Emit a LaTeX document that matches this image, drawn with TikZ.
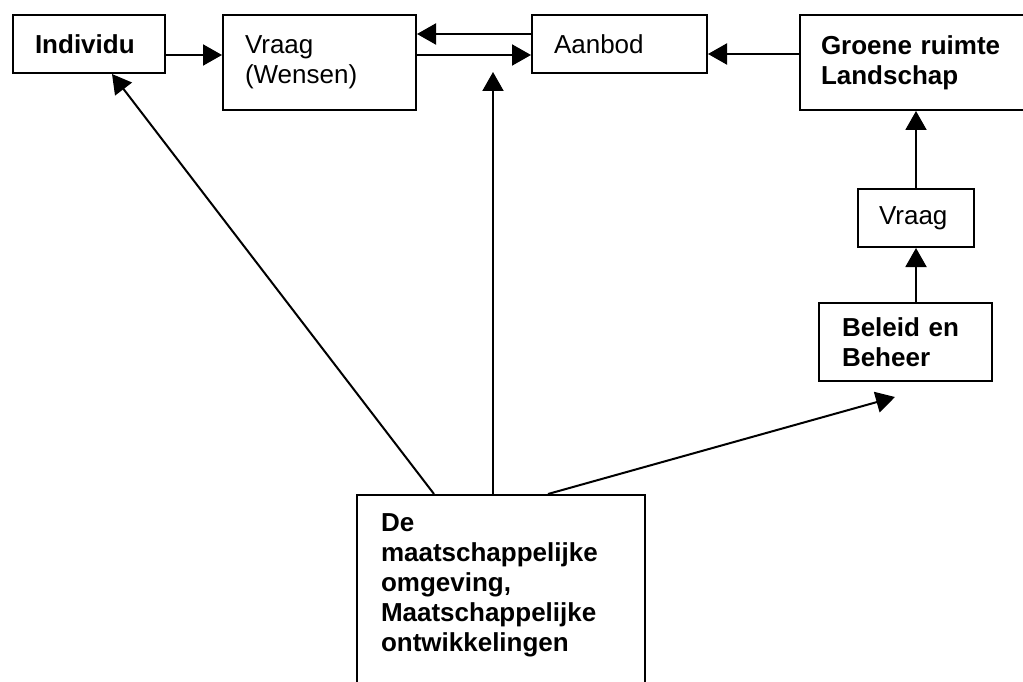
\documentclass[tikz,border=0pt]{standalone}
\usepackage{fontspec}
\setmainfont{Liberation Sans}
\usetikzlibrary{arrows.meta}

\begin{document}
\begin{tikzpicture}[x=1pt,y=-1pt,
  box/.style={draw,line width=2pt,anchor=north west,inner xsep=22pt,inner ysep=0pt,
    align=left,font=\fontsize{26}{30}\selectfont},
  vet/.style={box,font=\fontsize{26}{30}\selectfont\bfseries},
  pijl/.style={line width=2pt,-{Triangle[length=19pt,width=21pt]}}]
\useasboundingbox (0,0) rectangle (1023,682);
% bovenste rij
\node[vet,text width=108pt,minimum height=58pt] (ind) at (12,14) {Individu};
\node[box,text width=149pt,minimum height=95pt] (vr) at (222,14) {Vraag\\(Wensen)};
\node[box,text width=131pt,minimum height=58pt] (aan) at (531,14) {Aanbod};
\node[vet,inner xsep=21pt,text width=205pt,minimum height=95pt] (gr) at (799,14) {Groene ruimte\\Landschap};
% rechter kolom
\node[box,inner xsep=21pt,text width=74pt,minimum height=58pt] (vr2) at (857,188) {Vraag};
\node[vet,inner xsep=23pt,text width=127pt,minimum height=78pt] (bel) at (818,302) {Beleid en\\Beheer};
% onderste blok
\node[vet,inner xsep=24pt,inner ysep=16pt,text width=240pt,text height=20pt,text depth=170pt]
  (mts) at (356,494) {De\\maatschappelijke\\omgeving,\\Maatschappelijke\\ontwikkelingen};
\coordinate (pvr) at (493,72);
\coordinate (pbel) at (895,397);

\draw[pijl] ([yshift=-11pt]ind.east) -- ([yshift=-11pt]ind.east -| vr.west);
\draw[pijl] ([yshift=7.5pt]vr.east) -- ([yshift=7.5pt]vr.east -| aan.west);
\draw[pijl] ([yshift=10pt]aan.west) -- ([yshift=10pt]aan.west -| vr.east);
\draw[pijl] ([yshift=8.5pt]gr.west) -- ([yshift=8.5pt]gr.west -| aan.east);
\draw[pijl] (vr2.north) -- (vr2.north |- gr.south);
\draw[pijl] (bel.north -| vr2.south) -- (vr2.south);
\draw[pijl] ([xshift=78pt]mts.north west) -- ([xshift=23pt]ind.south);
\draw[pijl] (pvr |- mts.north) -- (pvr);
\draw[pijl] ([xshift=192pt]mts.north west) -- (pbel);
\end{tikzpicture}
\end{document}
